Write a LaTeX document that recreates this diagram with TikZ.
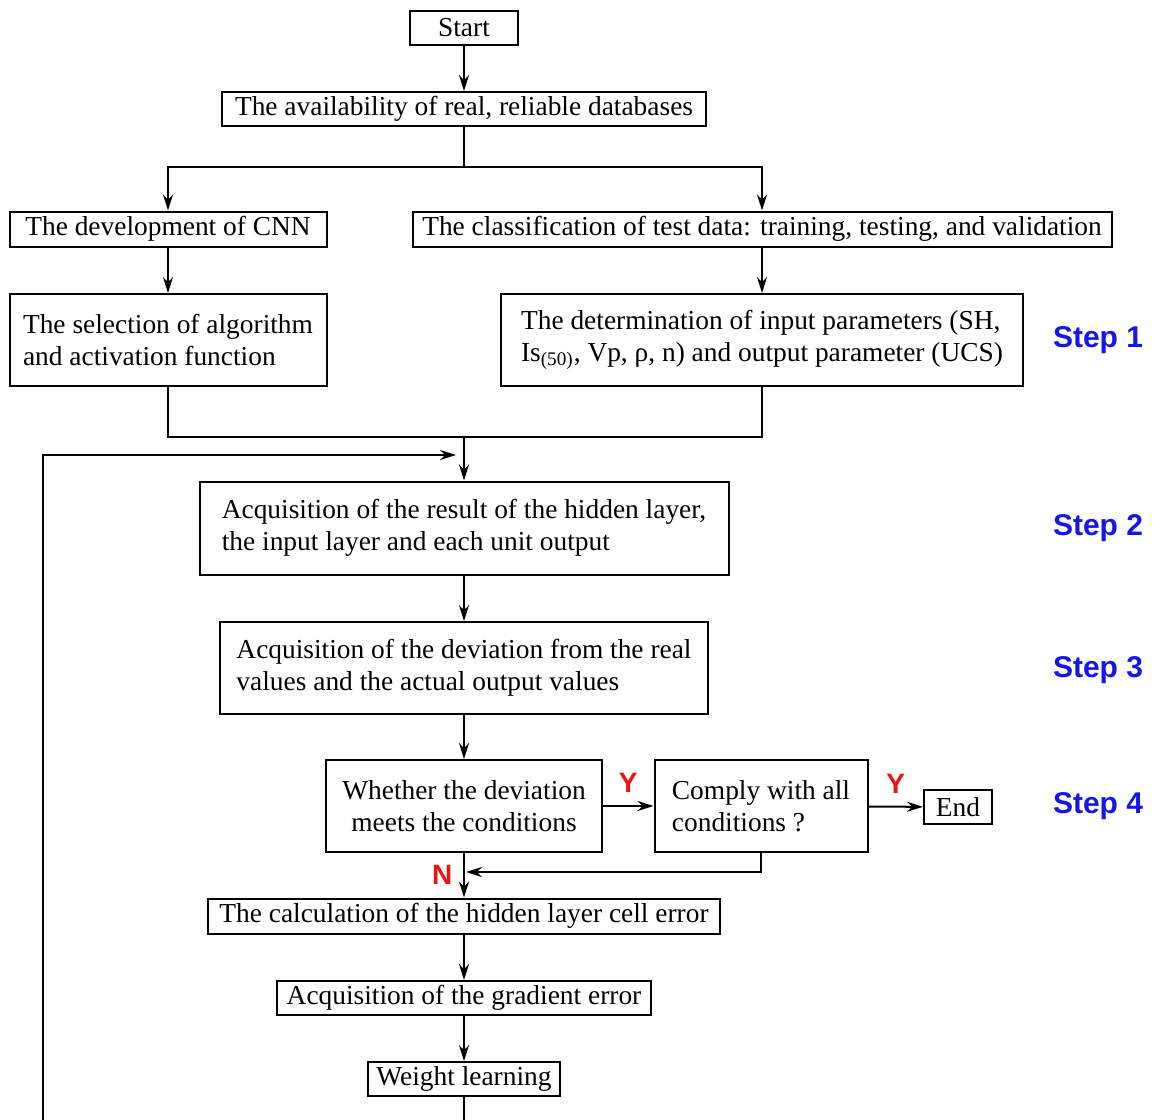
\documentclass[tikz,border=0pt]{standalone}
\usepackage{fontspec}
\setmainfont{Liberation Serif}
\newfontfamily\stepfont{Liberation Sans}
\usetikzlibrary{arrows.meta}
\definecolor{stepblue}{RGB}{20,20,235}
\definecolor{ynred}{RGB}{235,20,20}
\tikzset{
  box/.style={draw, line width=1pt, inner sep=2pt, font=\fontsize{13.7}{16}\selectfont},
  arr/.style={-{Stealth[length=8pt,width=5pt]}},
  steplabel/.style={text=stepblue, font=\stepfont\bfseries\fontsize{15}{18}\selectfont},
  yn/.style={text=ynred, font=\stepfont\bfseries\fontsize{14}{16}\selectfont}
}

\begin{document}
\begin{tikzpicture}[x=0.5pt,y=-0.5pt,line width=1pt]
\useasboundingbox (0,0) rectangle (1160,1119);
\clip (0,0) rectangle (1160,1119);
\node[box, minimum width=54pt, minimum height=17pt] (start) at (464,28) {Start};
\node[box, minimum width=242pt, minimum height=17pt] (avail) at (464,109) {The availability of real, reliable databases};
\node[box, minimum width=158.5pt, minimum height=17.5pt] (cnn) at (168,229) {The development of CNN};
\node[box, minimum width=349.5pt, minimum height=17.5pt] (cls) at (762,229) {The classification of test data: training, testing, and validation};
\node[box, align=left, minimum width=158.5pt, minimum height=46pt] (sel) at (168,340) {The selection of algorithm\\and activation function};
\node[box, align=left, minimum width=261pt, minimum height=46pt] (det) at (762,340) {The determination of input parameters (SH,\\Is\textsubscript{(50)}, Vp, ρ, n) and output parameter (UCS)};
\node[box, align=left, minimum width=264.5pt, minimum height=46.5pt] (hid) at (464,528) {Acquisition of the result of the hidden layer,\\the input layer and each unit output};
\node[box, align=left, minimum width=244pt, minimum height=46pt] (dev) at (464,668) {Acquisition of the deviation from the real\\values and the actual output values};
\node[box, align=center, minimum width=138pt, minimum height=46pt] (whe) at (464,806) {Whether the deviation\\meets the conditions};
\node[box, align=left, minimum width=106.5pt, minimum height=46pt] (comply) at (761,806) {Comply with all\\conditions ?};
\node[box, minimum width=34pt, minimum height=17pt] (end) at (958,807) {End};
\node[box, minimum width=256pt, minimum height=17.5pt] (calc) at (464,916) {The calculation of the hidden layer cell error};
\node[box, minimum width=187pt, minimum height=17pt] (grad) at (464,998) {Acquisition of the gradient error};
\node[box, minimum width=96pt, minimum height=17pt] (wl) at (464,1079) {Weight learning};

\node[steplabel] (s1) at (1098,340) {Step 1};
\node[steplabel] (s2) at (1098,528) {Step 2};
\node[steplabel] (s3) at (1098,670) {Step 3};
\node[steplabel] (s4) at (1098,806) {Step 4};

\coordinate (split) at (464,167);
\coordinate (merge) at (464,437);
\coordinate (back) at (466,872);
\coordinate (loopL) at (43,1160);
\coordinate (loopR) at (456,455);

\draw[arr] (start) -- (avail);
\draw (avail.south) -- (split);
\draw[arr] (split) -| (cnn.north);
\draw[arr] (split) -| (cls.north);
\draw[arr] (cnn) -- (sel);
\draw[arr] (cls) -- (det);
\draw (sel.south) |- (merge) -| (det.south);
\draw[arr] (merge) -- (hid.north);
\draw[arr] (hid) -- (dev);
\draw[arr] (dev) -- (whe);
\draw[arr] (whe) -- node[yn, above=3pt] (y1) {Y} (comply);
\draw[arr] (comply) -- node[yn, above=3pt] (y2) {Y} (end);
\draw[arr] (comply.south) |- (back);
\draw[arr] (whe.south) -- node[yn, left=2pt] (n1) {N} (calc.north);
\draw[arr] (calc) -- (grad);
\draw[arr] (grad) -- (wl);
\draw[arr] (wl.south) |- (loopL) |- (loopR);
\end{tikzpicture}
\end{document}
